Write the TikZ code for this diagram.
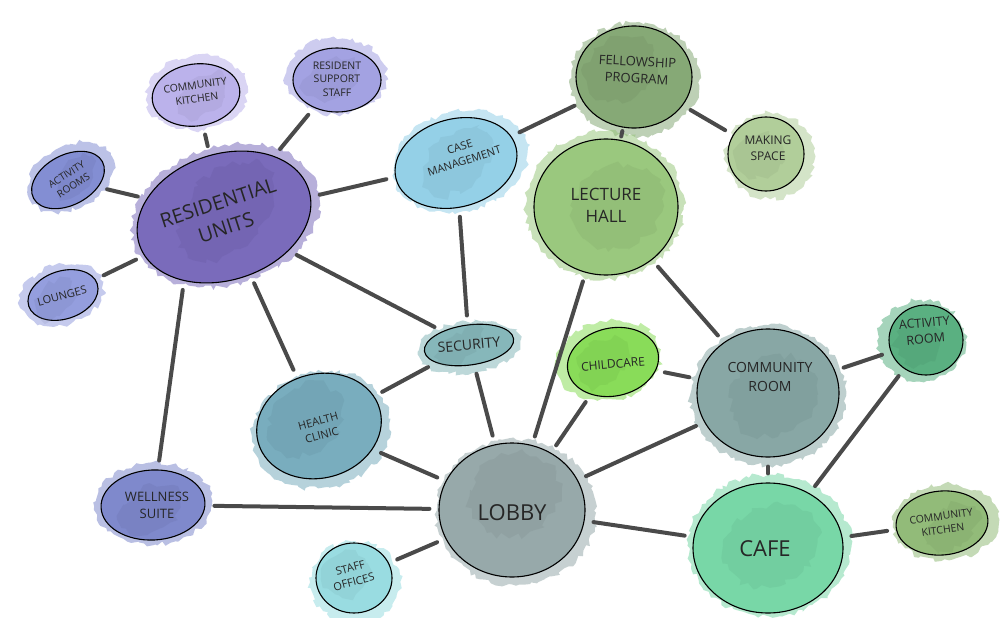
\documentclass[tikz,border=0pt]{standalone}
\usepackage{fontspec}
\setmainfont{Open Sans}
\usetikzlibrary{shapes.geometric,decorations.pathmorphing,calc}
\definecolor{ResC}{HTML}{7060B6}
\definecolor{CKaC}{HTML}{B6ADEA}
\definecolor{RSC}{HTML}{9C9BE0}
\definecolor{ARC}{HTML}{7A86D0}
\definecolor{LOC}{HTML}{8C97DC}
\definecolor{CMC}{HTML}{8CCDE6}
\definecolor{FPC}{HTML}{7DA36C}
\definecolor{MSC}{HTML}{ABCB92}
\definecolor{LHC}{HTML}{93C474}
\definecolor{SEC}{HTML}{7DB2B5}
\definecolor{CCC}{HTML}{80DA4C}
\definecolor{CRC}{HTML}{7FA19E}
\definecolor{ACC}{HTML}{4DAA78}
\definecolor{HCC}{HTML}{6FA7B9}
\definecolor{LBC}{HTML}{8FA3A4}
\definecolor{WSC}{HTML}{7580C9}
\definecolor{SOC}{HTML}{91DADF}
\definecolor{CAC}{HTML}{6ED4A1}
\definecolor{CKbC}{HTML}{8AB66F}
\definecolor{LineC}{HTML}{4A4A4A}
\newcommand\fsz[1]{\fontsize{#1}{1.3\dimexpr #1pt\relax}\selectfont}
\tikzset{
  wash/.style={ellipse, inner sep=0pt, fill opacity=0.5, draw=none,
    decorate, decoration={random steps, segment length=4pt, amplitude=2.5pt}},
  spot/.style={ellipse, inner sep=0pt, fill opacity=0.13, draw=none,
    decorate, decoration={random steps, segment length=6pt, amplitude=4pt}},
  bubfill/.style={ellipse, inner sep=0pt, draw=black, line width=1.1pt, fill opacity=0.85},
  lbl/.style={align=center, inner sep=0pt, text=black!85, font=\fsz{11}},
  conn/.style={draw=LineC, line width=4pt, line cap=round, shorten >=9pt, shorten <=9pt}
}
% #1 name, #2 centre, #3 width, #4 height, #5 rotation, #6 colour, #7 text position, #8 text options, #9 text
\newcommand\mybubble[9]{%
  \node[wash, fill=#6, minimum width=#3+14, minimum height=#4+12, rotate=#5] (#1w) at ($(#2)+(5*rand,5*rand)$) {};
  \node[bubfill, fill=#6, minimum width=#3, minimum height=#4, rotate=#5] (#1) at (#2) {};
  \node[spot, fill=#6!70!black, minimum width=0.65*#3, minimum height=0.6*#4, rotate=#5+30] (#1s) at ($(#2)+(0.12*#3*rand,0.12*#4*rand)$) {};
  \node[lbl, #8] (#1t) at (#7) {#9};
}
\begin{document}
\begin{tikzpicture}[x=1pt, y=-1pt]
\pgfmathsetseed{11}
\fill[white] (0,0) rectangle (1001,618);
\useasboundingbox (0,0) rectangle (1001,618);

\mybubble{ru}{224,217}{178}{126}{18}{ResC}{222,215}{rotate=18, font=\fsz{20}}{RESIDENTIAL\\UNITS}
\mybubble{cka}{196,95}{88}{62}{8}{CKaC}{196,92}{rotate=8, font=\fsz{10.5}}{COMMUNITY\\KITCHEN}
\mybubble{rs}{337,80}{88}{64}{0}{RSC}{337,79}{font=\fsz{10.5}}{RESIDENT\\SUPPORT\\STAFF}
\mybubble{ar}{68,180}{78}{50}{28}{ARC}{70,180}{rotate=32, font=\fsz{10}}{ACTIVITY\\ROOMS}
\mybubble{lo}{63,295}{72}{48}{18}{LOC}{62,296}{rotate=15, font=\fsz{11}}{LOUNGES}
\mybubble{cm}{456,163}{124}{88}{15}{CMC}{462,154}{rotate=18, font=\fsz{11}}{CASE\\MANAGEMENT}
\mybubble{fp}{634,77}{116}{102}{0}{FPC}{637,70}{rotate=-3, font=\fsz{13}}{FELLOWSHIP\\PROGRAM}
\mybubble{ms}{766,154}{76}{74}{0}{MSC}{768,148}{font=\fsz{12}}{MAKING\\SPACE}
\mybubble{lh}{606,207}{144}{136}{0}{LHC}{606,205}{font=\fsz{17}}{LECTURE\\HALL}
\mybubble{se}{469,345}{90}{40}{8}{SEC}{469,345}{rotate=5, font=\fsz{14}}{SECURITY}
\mybubble{cc}{613,362}{92}{68}{12}{CCC}{613,364}{rotate=5, font=\fsz{12}}{CHILDCARE}
\mybubble{cr}{768,393}{142}{128}{0}{CRC}{770,377}{font=\fsz{14}}{COMMUNITY\\ROOM}
\mybubble{ac}{926,340}{74}{70}{0}{ACC}{925,331}{rotate=5, font=\fsz{12.5}}{ACTIVITY\\ROOM}
\mybubble{hc}{319,426}{126}{104}{15}{HCC}{320,428}{rotate=15, font=\fsz{11}}{HEALTH\\CLINIC}
\mybubble{lb}{512,510}{146}{134}{0}{LBC}{512,513}{font=\fsz{22}}{LOBBY}
\mybubble{ws}{153,505}{104}{70}{3}{WSC}{157,505}{font=\fsz{13}}{WELLNESS\\SUITE}
\mybubble{so}{354,578}{76}{70}{0}{SOC}{352,575}{rotate=15, font=\fsz{11}}{STAFF\\OFFICES}
\mybubble{ca}{768,548}{150}{130}{0}{CAC}{765,549}{font=\fsz{22}}{CAFE}
\mybubble{ckb}{942,523}{92}{64}{5}{CKbC}{942,523}{rotate=8, font=\fsz{10.5}}{COMMUNITY\\KITCHEN}

\draw[conn] (ru) -- (cka);
\draw[conn] (ru) -- (rs);
\draw[conn] (ru) -- (ar);
\draw[conn] (ru) -- (lo);
\draw[conn] (ru) -- (cm);
\draw[conn] (ru) -- (se);
\draw[conn] (ru) -- (hc);
\draw[conn] (ru.-140) -- (ws);
\draw[conn] (cm) -- (se);
\draw[conn] (cm) -- (fp);
\draw[conn] (fp) -- (lh);
\draw[conn] (fp) -- (ms);
\draw[conn] (lh) -- (lb);
\draw[conn] (lh) -- (cr);
\draw[conn] (se) -- (hc);
\draw[conn] (se) -- (lb);
\draw[conn] (hc) -- (lb);
\draw[conn] (ws) -- (lb);
\draw[conn] (so) -- (lb);
\draw[conn] (cc) -- (lb);
\draw[conn] (cc) -- (cr);
\draw[conn] (cr) -- (lb);
\draw[conn] (cr) -- (ac);
\draw[conn] (cr) -- (ca);
\draw[conn] (ca) -- (ac);
\draw[conn] (ca) -- (lb);
\draw[conn] (ca) -- (ckb);
\end{tikzpicture}
\end{document}
